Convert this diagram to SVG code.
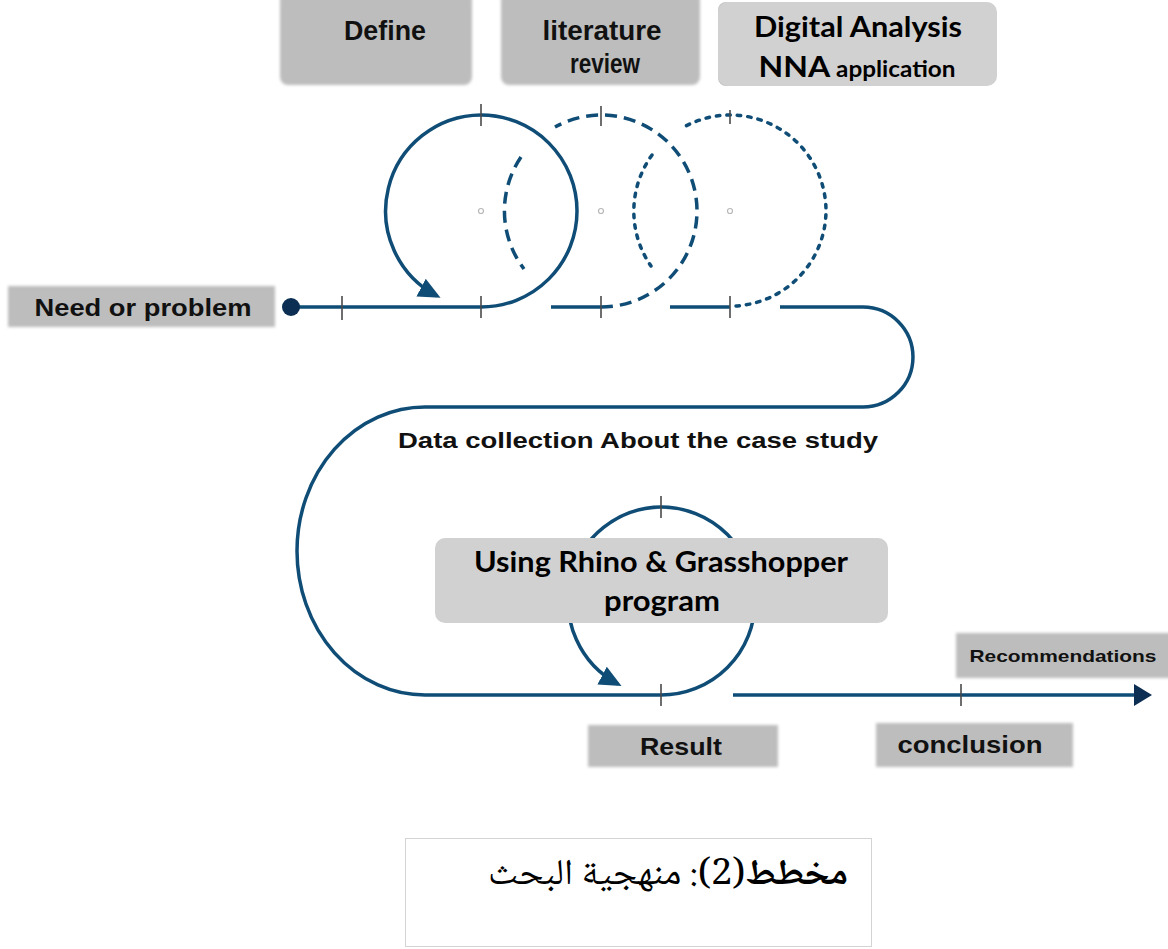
<svg xmlns="http://www.w3.org/2000/svg" width="1168" height="949" viewBox="0 0 1168 949">
<style>
.ln{fill:none;stroke:#0f4d77;stroke-width:3.5}
.dash{stroke-dasharray:12 7}
.dot{stroke-dasharray:3.5 7;stroke-linecap:round}
.tick{stroke:#4a4a4a;stroke-width:1.6}
.cdot{fill:none;stroke:#b8b8b8;stroke-width:1.2}
.box{fill:#bdbdbd}
.lbox{fill:#d2d1d2}
.ta{font-family:"Liberation Sans",Arial,sans-serif;font-weight:bold;fill:#111;text-anchor:middle}
.tc{font-family:Lato,"Open Sans",sans-serif;font-weight:bold;fill:#000;text-anchor:middle}
</style>
<defs>
<filter id="soft" x="-5%" y="-20%" width="110%" height="140%"><feGaussianBlur stdDeviation="1.5"/></filter>
<marker id="ah" markerUnits="userSpaceOnUse" markerWidth="26" markerHeight="22" refX="18" refY="10" orient="auto"><path d="M0,0 L22,10 L0,20 z" fill="#0f4d77"/></marker>
<marker id="ah2" markerUnits="userSpaceOnUse" markerWidth="22" markerHeight="24" refX="4" refY="11" orient="auto"><path d="M0,0 L18,11 L0,22 z" fill="#0b2e52"/></marker>
</defs>
<rect width="1168" height="949" fill="#fff"/>

<g id="connectors">
<path class="ln" d="M291,307 H481 A96,96 0 0 0 577,211 A96,96 0 0 0 481,115 A96,96 0 0 0 437,296" marker-end="url(#ah)"/>
<path class="ln" d="M551,307 H601"/>
<path class="ln dash" d="M601,307 A96,96 0 0 0 697,211 A96,96 0 0 0 601,115 A96,96 0 0 0 555,127"/>
<path class="ln dash" d="M521,157 A96,96 0 0 0 524,269"/>
<path class="ln" d="M670,307 H730"/>
<path class="ln dot" d="M736,306 A96,96 0 0 0 826,211 A96,96 0 0 0 730,115 A96,96 0 0 0 684,127"/>
<path class="ln dot" d="M652,155 A96,96 0 0 0 651,266"/>
<path class="ln" d="M780,307 H863 A50,50 0 0 1 863,407 H425 A128,144 0 0 0 425,695 H661 A94,94 0 0 0 755,601 A94,94 0 0 0 661,507 A94,94 0 0 0 618,684" marker-end="url(#ah)"/>
<path class="ln" d="M733,695 H1138" marker-end="url(#ah2)"/>
<circle cx="291" cy="307" r="9" fill="#0b2e52"/>
<g class="tick">
<line x1="342" y1="296" x2="342" y2="320"/>
<line x1="481" y1="296" x2="481" y2="318"/>
<line x1="481" y1="104" x2="481" y2="126"/>
<line x1="601" y1="296" x2="601" y2="318"/>
<line x1="601" y1="106" x2="601" y2="126"/>
<line x1="730" y1="296" x2="730" y2="318"/>
<line x1="730" y1="110" x2="730" y2="124"/>
<line x1="661" y1="496" x2="661" y2="518"/>
<line x1="661" y1="684" x2="661" y2="706"/>
<line x1="961" y1="684" x2="961" y2="706"/>
</g>
<circle class="cdot" cx="481" cy="211" r="2.5"/>
<circle class="cdot" cx="601" cy="211" r="2.5"/>
<circle class="cdot" cx="730" cy="211" r="2.5"/>
</g>

<g id="define">
<rect class="box" x="280" y="-8" width="192" height="93" rx="8" filter="url(#soft)"/>
<text class="ta" x="385" y="40" font-size="27" textLength="82" lengthAdjust="spacingAndGlyphs">Define</text>
</g>
<g id="literature">
<rect class="box" x="501" y="-8" width="199" height="93" rx="8" filter="url(#soft)"/>
<text class="ta" x="602" y="40" font-size="27" textLength="119" lengthAdjust="spacingAndGlyphs">literature</text>
<text class="ta" x="605" y="73" font-size="27" textLength="70" lengthAdjust="spacingAndGlyphs">review</text>
</g>
<g id="digital">
<rect x="718" y="2" width="200" height="84" rx="8" fill="#c4c3c4"/>
<rect class="lbox" x="718" y="2" width="279" height="84" rx="10"/>
<text class="tc" x="858" y="37" font-size="29" textLength="208" lengthAdjust="spacingAndGlyphs">Digital Analysis</text>
<text class="tc" x="857" y="77" font-size="29" textLength="197" lengthAdjust="spacingAndGlyphs"><tspan>NNA</tspan><tspan font-size="22"> application</tspan></text>
</g>
<g id="need">
<rect class="box" x="8" y="286" width="267" height="41" filter="url(#soft)"/>
<text class="ta" x="143" y="316" font-size="24" textLength="217" lengthAdjust="spacingAndGlyphs">Need or problem</text>
</g>
<g id="datacollection">
<text class="ta" x="638" y="448" font-size="22" textLength="480" lengthAdjust="spacingAndGlyphs">Data collection About the case study</text>
</g>
<g id="rhino">
<rect class="lbox" x="435" y="538" width="453" height="85" rx="10"/>
<text class="tc" x="661" y="572" font-size="29" textLength="374" lengthAdjust="spacingAndGlyphs">Using Rhino &amp; Grasshopper</text>
<text class="tc" x="662" y="611" font-size="29" textLength="116" lengthAdjust="spacingAndGlyphs">program</text>
</g>
<g id="result">
<rect class="box" x="588" y="725" width="190" height="42" filter="url(#soft)"/>
<text class="ta" x="681" y="755" font-size="24" textLength="82" lengthAdjust="spacingAndGlyphs">Result</text>
</g>
<g id="conclusion">
<rect class="box" x="876" y="723" width="197" height="44" filter="url(#soft)"/>
<text class="ta" x="970" y="753" font-size="24" textLength="145" lengthAdjust="spacingAndGlyphs">conclusion</text>
</g>
<g id="recommendations">
<rect class="box" x="956" y="633" width="220" height="45" filter="url(#soft)"/>
<text class="ta" x="1063" y="662" font-size="17" textLength="187" lengthAdjust="spacingAndGlyphs">Recommendations</text>
</g>
<g id="caption">
<rect x="405.5" y="838.5" width="466" height="108" fill="#fff" stroke="#d4d4d4" stroke-width="1"/>
<text x="848" y="884" direction="rtl" text-anchor="start" font-family="'Noto Naskh Arabic','DejaVu Sans',sans-serif" font-size="36" fill="#000" textLength="360" lengthAdjust="spacingAndGlyphs"><tspan font-weight="bold">مخطط</tspan>(2): منهجية البحث</text>
</g>
</svg>
